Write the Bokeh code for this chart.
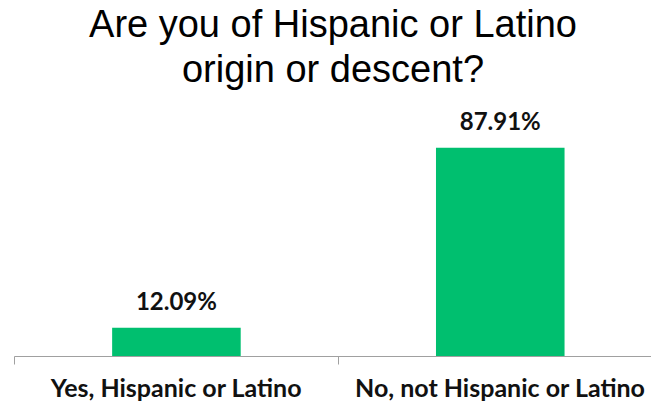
from bokeh.plotting import figure
from bokeh.models import Range1d, FixedTicker, LinearAxis, Title, ColumnDataSource, LabelSet
from bokeh.core.properties import value
from bokeh.embed import file_html
from bokeh.resources import INLINE

title_lines = ["Are you of Hispanic or Latino", "origin or descent?"]
categories = ["Yes, Hispanic or Latino", "No, not Hispanic or Latino"]
values = [12.09, 87.91]
labels = [f"{v:.2f}%" for v in values]

xs = [i + 0.5 for i in range(len(categories))]
src = ColumnDataSource(dict(x=xs, top=values, label=labels))

p = figure(width=651, height=404, output_backend="svg", toolbar_location=None,
           x_range=Range1d(0, 1.967), y_range=Range1d(0, 112),
           min_border_left=14, min_border_right=0, min_border_top=0, min_border_bottom=0,
           outline_line_color=None)
p.background_fill_color = "white"
p.border_fill_color = "white"
p.grid.visible = False
p.yaxis.visible = False
p.xaxis.visible = False

p.vbar(x="x", top="top", width=0.397, source=src, color="#00BF6F", line_color=None)

p.add_layout(LabelSet(x="x", y="top", text="label", source=src, text_align="center",
                      text_baseline="alphabetic", y_offset=18, text_font=value("Lato"),
                      text_font_style="bold", text_font_size="24px", text_color="#111111"))

ax1 = LinearAxis(ticker=FixedTicker(ticks=list(range(len(categories) + 1))),
                 major_label_overrides={i: "" for i in range(len(categories) + 1)},
                 axis_line_color="#A0A0A0", major_tick_line_color="#A0A0A0",
                 major_tick_out=8, major_tick_in=0, minor_tick_line_color=None,
                 major_label_standoff=0)
p.add_layout(ax1, "below")
ax2 = LinearAxis(ticker=FixedTicker(ticks=xs),
                 major_label_overrides={x: c for x, c in zip(xs, categories)},
                 axis_line_color=None, major_tick_line_color=None, minor_tick_line_color=None,
                 major_label_text_font="Lato", major_label_text_font_style="bold",
                 major_label_text_font_size="25px", major_label_text_color="#111111",
                 major_label_standoff=1)
p.add_layout(ax2, "below")

p.add_layout(Title(text=title_lines[1], align="center", text_font="Liberation Sans",
                   text_font_size="38px", text_font_style="normal", text_color="#000000",
                   standoff=2), "above")
p.add_layout(Title(text=title_lines[0], align="center", text_font="Liberation Sans",
                   text_font_size="38px", text_font_style="normal", text_color="#000000",
                   standoff=0), "above")

open("out.html", "w").write(file_html(p, INLINE))
